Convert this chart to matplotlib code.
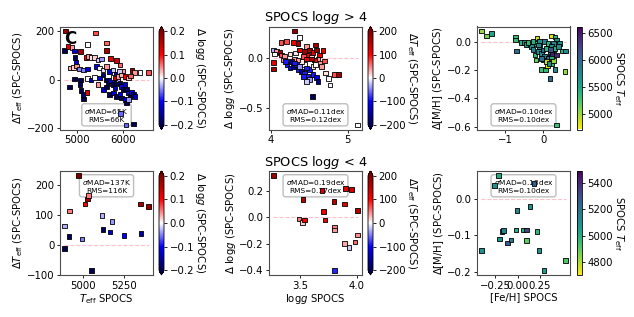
import numpy as np
import matplotlib
matplotlib.use('Agg')
import matplotlib.pyplot as plt

# ---------------- data ----------------
# top-left: SPOCS Teff, delta Teff, colour = delta logg   (SPOCS logg > 4)
tl_teff = [4760, 4730, 4810, 4900, 4955, 5085, 5405, 5225, 5645, 5640, 4965, 4985, 4870, 4925, 4990,
           5055, 5145, 5225, 5195, 5255, 5310, 5385, 5455, 5530, 5725, 5860, 5930, 5985, 6190, 6240,
           6365, 6550, 4840, 4950, 5080, 5072, 5095, 5130, 5150, 5218, 5225, 5310, 5420, 5490, 5565,
           5640, 5710, 5780, 5855, 5915, 5490, 5565, 5640, 5675, 5730, 5785, 5820, 5855, 5890, 5930,
           5965, 6000, 6035, 6075, 6110, 6145, 6180, 6220, 6255, 5710, 5785, 5855, 5930, 5965, 6035,
           6075, 6110, 6060, 6220, 5945, 5580, 5640, 5455, 5385, 5785, 5820, 5890, 5965, 6035, 6110,
           6160]
tl_dteff = [200, 120, 136, 132, 118, 116, 192, 146, 152, 120, 93, 71, 48, 50, 57,
            44, 41, 45, 93, 95, 91, 93, 82, 86, 88, 79, 61, 37, 38, 30,
            31, 31, -30, 3, 0, -20, -44, -61, -79, -52, 5, 0, 54, 48, 41,
            54, 34, 41, 24, 34, 7, 20, 0, -14, -3, -20, -34, -11, 0, -14,
            -27, -41, -20, -38, -54, -68, -52, -61, -68, -61, -54, -68, -61, -75, -82,
            -95, -82, -185, -181, -139, -41, -30, -20, 10, 10, 7, 14, 20, 14, 7,
            16]
tl_dlogg = [0.18, -0.2, 0.12, 0.04, -0.12, 0.17, 0.07, 0.0, 0.06, 0.17, -0.19, -0.12, 0.03, 0.02, 0.04,
            -0.05, -0.05, -0.12, 0.1, 0.04, 0.01, 0.02, -0.02, -0.04, 0.12, 0.13, 0.06, 0.04, 0.18, 0.04,
            0.0, 0.07, -0.2, -0.2, -0.2, -0.19, -0.2, -0.18, -0.2, 0.12, 0.0, -0.12, -0.1, 0.0, -0.01,
            0.04, -0.12, -0.02, -0.13, -0.02, -0.12, -0.18, -0.2, -0.19, -0.12, -0.2, -0.12, -0.18, -0.03, -0.19,
            -0.1, -0.2, -0.12, -0.19, -0.11, -0.2, -0.1, -0.18, -0.12, -0.2, -0.12, -0.2, -0.11, -0.19, -0.12,
            -0.2, -0.04, -0.06, -0.2, -0.06, -0.12, -0.2, 0.04, 0.0, 0.0, 0.12, 0.04, 0.03, 0.1, 0.03,
            0.06]

# top-middle: SPOCS logg, delta logg, colour = delta Teff
tm_logg = [4.31, 4.375, 4.13, 4.20, 4.29, 4.35, 4.46, 4.58, 4.03, 4.07, 4.12, 4.05, 4.14, 4.18, 4.25,
           4.32, 4.375, 4.44, 4.50, 4.55, 4.59, 4.68, 4.70, 4.61, 4.03, 4.03, 4.16, 4.21, 4.25, 4.29,
           4.33, 4.35, 4.40, 4.44, 4.48, 4.50, 4.55, 4.59, 4.61, 4.50, 4.44, 4.40, 4.31, 4.35, 4.42,
           4.48, 4.53, 4.57, 4.63, 4.66, 4.71, 4.75, 4.77, 4.83, 4.88, 4.54, 5.13, 4.19, 4.27, 4.31,
           4.375, 4.46, 4.55, 4.42, 4.46, 4.53, 4.46, 4.58, 4.63]
tm_dlogg = [0.26, 0.20, 0.15, 0.16, 0.15, 0.14, 0.11, 0.125, 0.076, 0.06, 0.05, 0.033, 0.026, 0.01, 0.036,
            0.043, 0.076, 0.06, 0.076, 0.05, 0.076, 0.07, -0.033, -0.016, -0.05, -0.115, -0.023, -0.07, -0.105, -0.09,
            -0.07, -0.12, -0.14, -0.155, -0.19, -0.22, -0.17, -0.20, -0.24, -0.12, -0.07, -0.04, -0.016, -0.023, 0.01,
            0.026, 0.003, -0.023, -0.056, -0.09, -0.155, -0.21, -0.27, -0.17, -0.168, -0.385, -0.665, -0.04, -0.04, -0.056,
            -0.09, -0.105, -0.09, -0.19, -0.24, -0.016, -0.016, -0.07, 0.026]
tm_dteff = [180, 0, 70, 70, 110, 170, 40, 170, -30, 40, 170, 0, 70, 40, 10,
            10, 110, 170, 170, 110, 180, 110, 70, 40, 120, 170, 40, -90, -100, -170,
            -90, -90, -160, -90, -90, -40, -90, -100, -170, -90, 0, 10, 40, 40, 70,
            110, 20, 110, 40, 40, 10, 0, 0, 70, 170, -190, 0, -90, -170, -90,
            -40, -90, 10, -90, -20, 170, 110, 0, 110]

# top-right: SPOCS [Fe/H], delta [M/H], colour = SPOCS Teff
tr_feh = [-1.64, -1.50, -1.37, -0.73, -0.73, -0.71, -0.59, -0.50, -0.44, -0.35, -0.31, -0.27, -0.18, -0.16, -0.09,
          -0.22, -0.19, -0.13, -0.04, 0.0, 0.04, 0.09, 0.13, 0.18, 0.22, 0.31, 0.35, 0.27, 0.44, 0.51,
          0.60, -0.04, 0.07, 0.18, 0.31, 0.22, 0.11, 0.27, 0.35, 0.58, 0.35, -0.09, 0.04, 0.13, 0.22,
          0.27, 0.31, 0.40, 0.0, 0.09, 0.16, 0.22, -0.04, -0.13, -0.27, -0.40, 0.24, 0.19]
tr_dmh = [0.075, 0.04, 0.06, 0.03, 0.012, -0.064, -0.007, -0.007, -0.02, -0.012, -0.035, -0.054, -0.012, 0.028, -0.035,
          -0.094, -0.129, -0.07, -0.082, -0.059, -0.106, -0.047, -0.118, -0.082, 0.04, 0.035, 0.012, -0.012, -0.012, -0.064,
          -0.066, -0.195, -0.2, -0.261, -0.195, -0.153, -0.172, -0.134, -0.094, -0.212, -0.588, 0.0, 0.0, -0.012, -0.035,
          -0.059, -0.047, -0.035, -0.129, -0.141, -0.153, -0.106, -0.118, -0.024, 0.0, -0.007, -0.082, -0.054]
tr_teff = [5000, 5100, 5500, 5300, 5350, 5950, 5400, 5700, 5650, 5400, 5700, 5750, 5350, 4850, 5700,
           5300, 5150, 5700, 5750, 6000, 5800, 5400, 6000, 5700, 4800, 5350, 5650, 5750, 5700, 5400,
           5700, 5300, 5350, 6000, 5700, 5350, 4800, 5000, 6400, 5000, 5300, 5700, 5750, 5400, 5700,
           5950, 5400, 5700, 5750, 4850, 5700, 5400, 5950, 5700, 5400, 5350, 6450, 6150]

# bottom-left (SPOCS logg < 4)
bl_teff = [4885, 4883, 4912, 4916, 4971, 4992, 5010, 5025, 5033, 5049, 5115, 5121, 5164, 5176, 5250, 5352, 5354, 5402]
bl_dteff = [63, -13, 28, 113, 231, 19, 137, 153, 165, -85, 98, 51, 43, 79, 31, 136, 37, 129]
bl_dlogg = [-0.03, -0.2, -0.19, 0.05, 0.2, -0.05, 0.1, 0.17, 0.05, -0.2, -0.03, -0.18, -0.13, -0.04, -0.1, 0.17, -0.15, 0.18]

# bottom-middle
bm_logg = [3.267, 3.529, 3.494, 3.526, 3.544, 3.709, 3.721, 3.802, 3.805, 3.805, 3.805, 3.890, 3.901, 3.956, 4.009,
           3.890, 3.933, 3.985, 4.009, 3.695]
bm_dlogg = [0.32, 0.139, -0.013, -0.039, -0.021, 0.046, -0.018, 0.124, -0.072, -0.095, -0.405, 0.103, 0.224, 0.214, 0.052,
            -0.198, -0.232, -0.188, -0.134, 0.206]
bm_dteff = [180, 150, 50, 20, 100, 110, 110, 150, 50, 40, -85, 120, 120, 135, 160, 35, -20, 60, 45, 130]

# bottom-right
br_feh = [-0.216, -0.407, -0.205, -0.175, -0.160, -0.112, -0.075, -0.019, -0.007, 0.063, 0.101, 0.101, 0.138, 0.220,
          0.239, 0.299, 0.541, 0.183, -0.257]
br_dmh = [0.063, -0.142, -0.110, -0.089, -0.087, -0.121, -0.113, -0.086, -0.033, -0.086, -0.086, -0.114, -0.022, -0.089,
          -0.142, -0.196, -0.170, 0.042, 0.037]
br_teff = [5020, 5100, 5080, 5200, 5150, 5250, 5170, 5000, 5120, 4990, 5330, 4900, 5100, 4980, 5080, 5060, 4920, 5250, 5100]

stats_top = ["$\\sigma$MAD=65K\nRMS=66K", "$\\sigma$MAD=0.11dex\nRMS=0.12dex", "$\\sigma$MAD=0.10dex\nRMS=0.10dex"]
stats_bot = ["$\\sigma$MAD=137K\nRMS=116K", "$\\sigma$MAD=0.19dex\nRMS=0.17dex", "$\\sigma$MAD=0.13dex\nRMS=0.10dex"]

# ---------------- figure ----------------
FS = 7.3
plt.rcParams['font.size'] = FS
fig = plt.figure(figsize=(6.34, 3.17), dpi=100)
W, H = 634.0, 317.0


def box(l, t, r, b):
    return [l / W, 1 - b / H, (r - l) / W, (b - t) / H]


col_x = [(60, 153, 159, 164), (269, 362, 368, 373), (477, 570, 577, 582)]
row_y = [(26.5, 129.5), (171, 275)]

lab_dteff = "$\\Delta T_{\\rm eff}$ (SPC-SPOCS)"
lab_dlogg = "$\\Delta$ log$g$ (SPC-SPOCS)"
lab_dmh = "$\\Delta$[M/H] (SPC-SPOCS)"
lab_teff = "SPOCS $T_{\\rm eff}$"


def panel(ci, ri, x, y, c, cmap, vmin, vmax, extend, ylabel, clabel, cticks, stat, top):
    l, r, cl, cr = col_x[ci]
    t, b = row_y[ri]
    ax = fig.add_axes(box(l, t, r, b))
    cax = fig.add_axes(box(cl, t, cr, b))
    x = np.asarray(x); y = np.asarray(y)
    ax.hlines(0, x.min(), x.max(), colors='pink', linestyles='--', lw=0.8, zorder=1)
    sc = ax.scatter(x, y, c=c, cmap=cmap, vmin=vmin, vmax=vmax, marker='s', s=11,
                    edgecolors='k', linewidths=0.6, zorder=3)
    cb = fig.colorbar(sc, cax=cax, extend=extend)
    cb.set_ticks(cticks)
    cb.set_label(clabel, rotation=270, labelpad=9, fontsize=FS)
    cb.ax.tick_params(labelsize=FS, length=2.5, width=0.6, pad=1.5)
    cb.outline.set_linewidth(0.6)
    ax.set_ylabel(ylabel, fontsize=FS, labelpad=1)
    ax.tick_params(labelsize=FS, length=2.5, width=0.6, pad=1.5)
    for s in ax.spines.values():
        s.set_linewidth(0.8)
        s.set_color('0.3')
    if top:
        ax.text(0.5, 0.06, stat, transform=ax.transAxes, ha='center', va='bottom', fontsize=5.3,
                linespacing=1.2, zorder=2,
                bbox=dict(boxstyle='round,pad=0.35', fc='white', ec='0.7', alpha=0.85))
    else:
        ax.text(0.5, 0.93, stat, transform=ax.transAxes, ha='center', va='top', fontsize=5.3,
                linespacing=1.2, zorder=2,
                bbox=dict(boxstyle='round,pad=0.35', fc='white', ec='0.7', alpha=0.85))
    return ax, cb


# top row
ax1, _ = panel(0, 0, tl_teff, tl_dteff, tl_dlogg, 'seismic', -0.2, 0.2, 'both', lab_dteff, lab_dlogg,
               [-0.2, -0.1, 0.0, 0.1, 0.2], stats_top[0], True)
ax1.set_xticks([5000, 6000])
ax1.set_yticks([-200, 0, 200])
ax1.text(0.04, 0.97, "C", transform=ax1.transAxes, ha='left', va='top', fontsize=12,
         fontweight='bold', zorder=5)

ax2, _ = panel(1, 0, tm_logg, tm_dlogg, tm_dteff, 'seismic', -200, 200, 'both', lab_dlogg, lab_dteff,
               [-200, -100, 0, 100, 200], stats_top[1], True)
ax2.set_xticks([4, 5])
ax2.set_yticks([-0.5, 0.0])
ax2.set_title("SPOCS log$g$ > 4", fontsize=9.3, pad=3)

ax3, _ = panel(2, 0, tr_feh, tr_dmh, tr_teff, 'viridis_r', 4704, 6623, 'neither', lab_dmh, lab_teff,
               [5000, 5500, 6000, 6500], stats_top[2], True)
ax3.set_xticks([-1, 0])
ax3.set_yticks([-0.6, -0.4, -0.2, 0.0])

# bottom row
ax4, _ = panel(0, 1, bl_teff, bl_dteff, bl_dlogg, 'seismic', -0.2, 0.2, 'both', lab_dteff, lab_dlogg,
               [-0.2, -0.1, 0.0, 0.1, 0.2], stats_bot[0], False)
ax4.set_xticks([5000, 5250])
ax4.set_yticks([-100, 0, 100, 200])
ax4.set_xlabel("$T_{\\rm eff}$ SPOCS", fontsize=FS, labelpad=1)

ax5, _ = panel(1, 1, bm_logg, bm_dlogg, bm_dteff, 'seismic', -200, 200, 'both', lab_dlogg, lab_dteff,
               [-200, -100, 0, 100, 200], stats_bot[1], False)
ax5.set_xticks([3.5, 4.0])
ax5.set_yticks([-0.4, -0.2, 0.0, 0.2])
ax5.set_xlabel("log$g$ SPOCS", fontsize=FS, labelpad=1)
ax5.set_title("SPOCS log$g$ < 4", fontsize=9.3, pad=3)

ax6, _ = panel(2, 1, br_feh, br_dmh, br_teff, 'viridis_r', 4705, 5490, 'neither', lab_dmh, lab_teff,
               [4800, 5000, 5200, 5400], stats_bot[2], False)
ax6.set_xticks([-0.25, 0.0, 0.25])
ax6.set_yticks([-0.2, -0.1, 0.0])
ax6.set_xlabel("[Fe/H] SPOCS", fontsize=FS, labelpad=1)

fig.savefig("out.png", dpi=100)
